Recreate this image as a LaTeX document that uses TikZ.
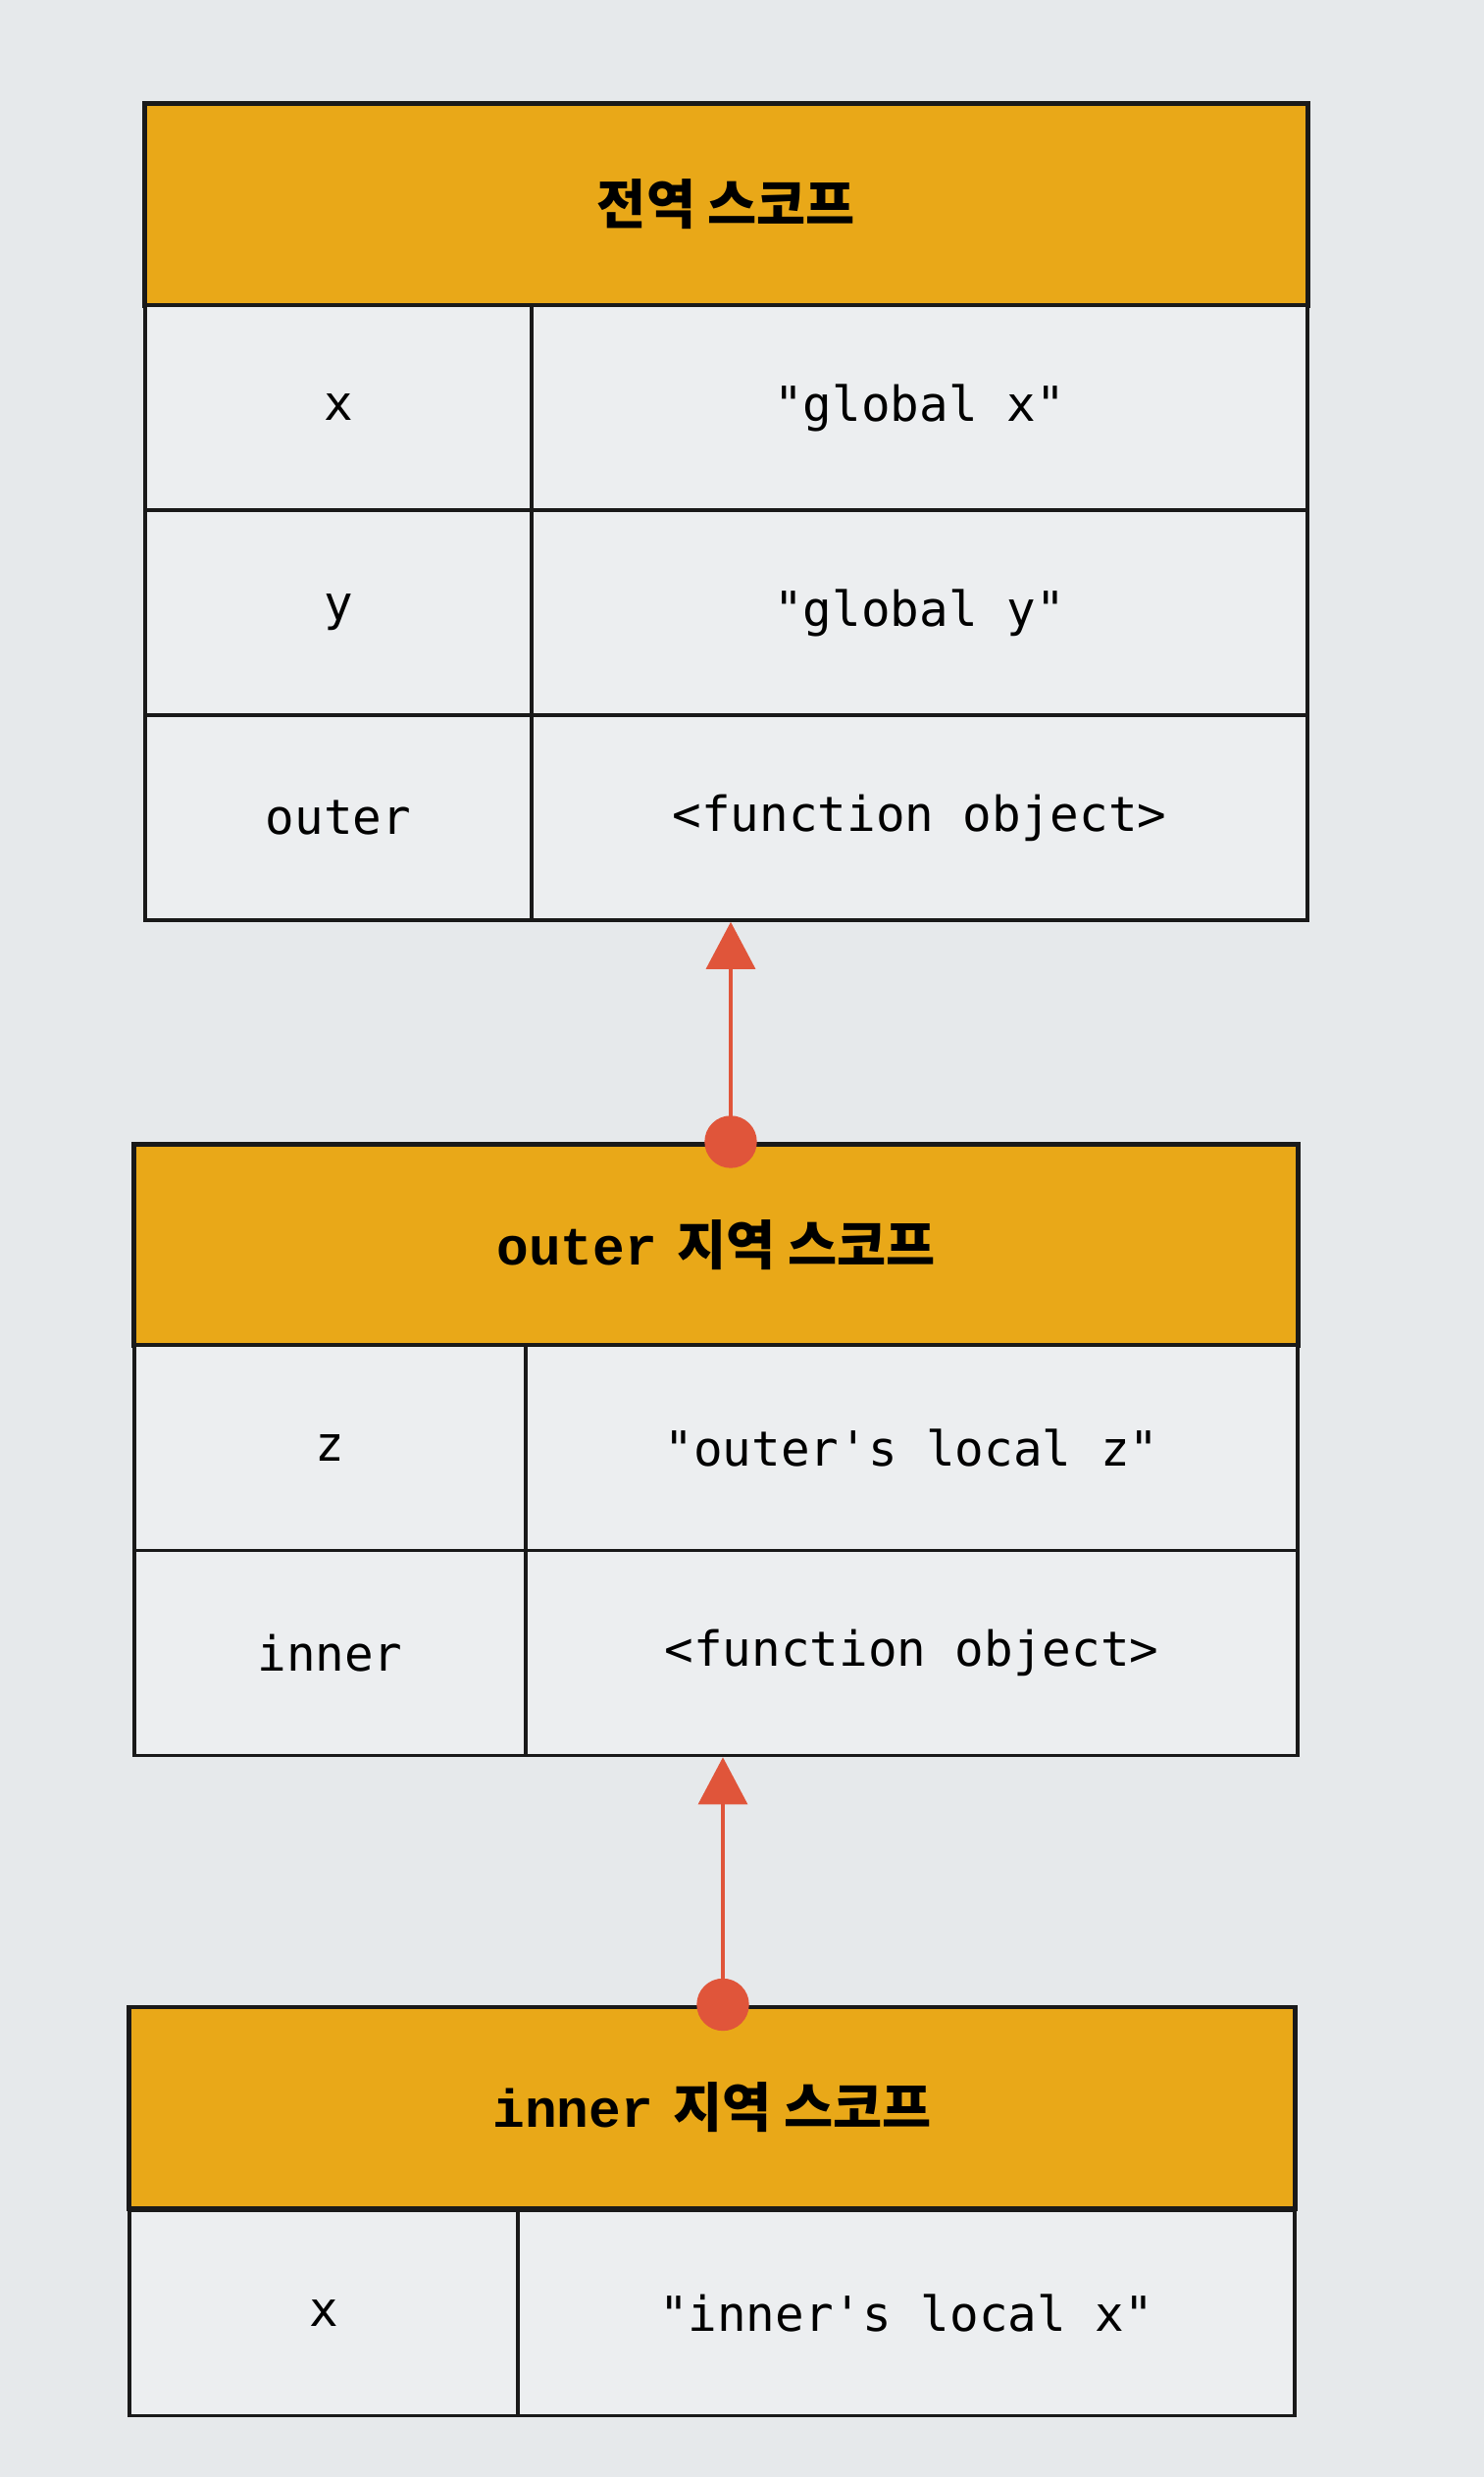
\documentclass[tikz,border=0pt]{standalone}
\usepackage{fontspec}
\setmonofont{DejaVu Sans Mono}
\newfontfamily\headmono{Liberation Mono}
\newfontfamily\kofont{Noto Sans CJK KR}
\usepackage{tikz}
\usetikzlibrary{positioning}
\usetikzlibrary{arrows.meta}

\definecolor{pagebg}{HTML}{E6E9EB}
\definecolor{cellbg}{HTML}{ECEEF0}
\definecolor{scopegold}{HTML}{E9A818}
\definecolor{linkred}{HTML}{E0553A}

\tikzset{
  headcell/.style={draw=black!90, line width=1.4pt, fill=scopegold, inner sep=0pt,
    minimum height=2.05cm, font=\fontsize{15.5}{17}\selectfont\bfseries},
  keycell/.style={draw=black!90, line width=1pt, fill=cellbg, inner sep=0pt,
    minimum height=2.09cm, font=\ttfamily\fontsize{14}{16}\selectfont},
  valcell/.style={keycell},
  scopelink/.style={draw=linkred, line width=0.9pt,
    -{Triangle[length=0.48cm, width=0.5cm]}, fill=linkred},
}

\begin{document}
\begin{tikzpicture}[x=0.01cm, y=-0.01cm]
    % page
    \fill[pagebg] (0,0) rectangle (1513,2525);
    \useasboundingbox (0,0) rectangle (1513,2525);

    % global scope
    \node[headcell, minimum width=11.85cm] (globalhead) at (740.5, 208.5)
        {{\kofont\bfseries 전역 스코프}};
    \node[keycell, minimum width=3.94cm] (globalxkey) at (345, 415.5) {x};
    \node[valcell, minimum width=7.91cm] (globalxval) at (937.5, 415.5) {"global x"};
    \node[keycell, minimum width=3.94cm] (globalykey) at (345, 624.5) {y};
    \node[valcell, minimum width=7.91cm] (globalyval) at (937.5, 624.5) {"global y"};
    \node[keycell, minimum width=3.94cm] (globalouterkey) at (345, 833.5) {outer};
    \node[valcell, minimum width=7.91cm] (globalouterval) at (937.5, 833.5) {<function object>};

    % outer scope
    \node[headcell, minimum width=11.86cm] (outerhead) at (730, 1269)
        {{\headmono\bfseries outer} {\kofont\bfseries 지역 스코프}};
    \node[keycell, minimum width=3.99cm] (outerzkey) at (336.5, 1476) {z};
    \node[valcell, minimum width=7.87cm] (outerzval) at (929.5, 1476) {"outer's local z"};
    \node[keycell, minimum width=3.99cm] (outerinnerkey) at (336.5, 1685) {inner};
    \node[valcell, minimum width=7.87cm] (outerinnerval) at (929.5, 1685) {<function object>};

    % inner scope
    \node[headcell, minimum width=11.88cm] (innerhead) at (726, 2148.5)
        {{\headmono\bfseries inner} {\kofont\bfseries 지역 스코프}};
    \node[keycell, minimum width=3.96cm] (innerxkey) at (330, 2358) {x};
    \node[valcell, minimum width=7.92cm] (innerxval) at (924, 2358) {"inner's local x"};

    % links to the enclosing scope
    \coordinate (globaldock) at (745, 0);
    \coordinate (outerdock) at (737, 0);
    \draw[scopelink] (outerhead.north -| globaldock) -- (globalouterval.south -| globaldock);
    \filldraw[linkred] (outerhead.north -| globaldock) circle (26);
    \draw[scopelink] (innerhead.north -| outerdock) -- (outerinnerval.south -| outerdock);
    \filldraw[linkred] (innerhead.north -| outerdock) circle (26);
\end{tikzpicture}
\end{document}
